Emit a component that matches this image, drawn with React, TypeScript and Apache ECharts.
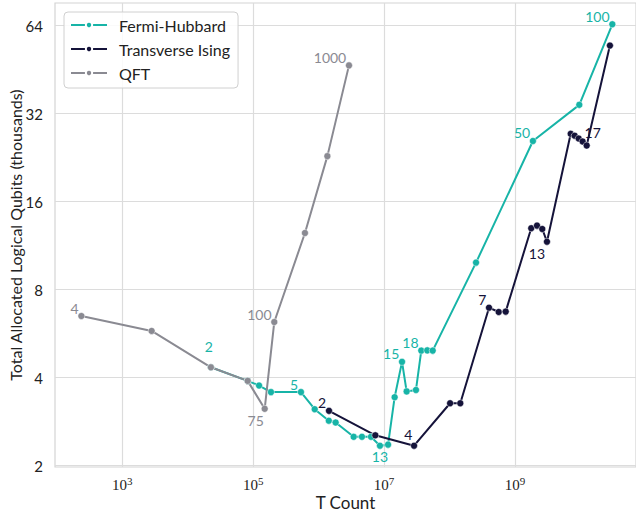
import React, { useEffect, useRef } from "react";
import * as echarts from "echarts";

const xTicks = [1e3, 1e5, 1e7, 1e9];
const yTicks = [2, 4, 8, 16, 32, 64];

const seriesNames = ["Fermi-Hubbard", "Transverse Ising", "QFT"];

const fhT = [22600, 82400, 123000, 187000, 537000, 871000, 1.43e6, 1.82e6, 3.43e6, 4.59e6, 6.31e6, 8.65e6, 1.15e7, 1.45e7, 1.88e7, 2.21e7, 3.07e7, 3.7e7, 4.57e7, 5.53e7, 2.54e8, 1.88e9, 9.6e9, 3.07e10];
const fhQ = [4.34, 3.9, 3.76, 3.57, 3.57, 3.12, 2.85, 2.81, 2.51, 2.51, 2.51, 2.34, 2.36, 3.43, 4.53, 3.59, 3.63, 4.95, 4.96, 4.95, 9.9, 25.8, 34.3, 64.7];
const fhLabels = ["2", "", "", "", "5", "", "", "", "", "", "", "13", "", "", "15", "", "", "18", "", "", "", "50", "", "100"];

const tiT = [1.44e6, 7.35e6, 2.87e7, 1.02e8, 1.46e8, 4.01e8, 5.64e8, 7.21e8, 1.77e9, 2.17e9, 2.61e9, 3.08e9, 7.1e9, 8.17e9, 9.4e9, 1.08e10, 1.245e10, 2.82e10];
const tiQ = [3.08, 2.54, 2.34, 3.27, 3.27, 6.94, 6.71, 6.73, 12.98, 13.25, 12.9, 11.67, 27.3, 26.9, 26.3, 25.7, 24.9, 54.7];
const tiLabels = ["2", "", "4", "", "", "7", "", "", "", "", "", "13", "", "", "", "", "17", ""];

const qftT = [237, 2810, 22600, 82400, 150000, 210000, 618000, 1.36e6, 2.91e6];
const qftQ = [6.5, 5.78, 4.34, 3.9, 3.13, 6.2, 12.5, 22.9, 46.8];
const qftLabels = ["4", "", "", "", "75", "100", "", "", "1000"];

const colors = ["#17b4a7", "#15133a", "#8a8a92"];
const SANS = "Lato, 'Open Sans', sans-serif";

function placement(series: string, text: string): any {
  if (series === "Fermi-Hubbard" && text === "2") return { position: "top", distance: 5, offset: [-2, -5] };
  if (series === "Fermi-Hubbard" && text === "13") return { position: "bottom", distance: 0, offset: [0, 0] };
  if (series === "QFT" && text === "75") return { position: "bottom", distance: 1, offset: [-9, 0] };
  if (series === "Transverse Ising" && text === "13") return { position: "bottom", distance: 1, offset: [-10, 0] };
  if (series === "Transverse Ising" && text === "17") return { position: "top", distance: 4, offset: [6, 2] };
  if (series === "Transverse Ising" && text === "4") return { position: "left", distance: 0, offset: [2, -11] };
  return { position: "left", distance: -1, offset: [0, -8] };
}

function buildData(name: string, xs: number[], ys: number[], labels: string[], color: string) {
  return xs.map((x, i) => {
    const item: any = { value: [x, ys[i]] };
    if (labels[i]) {
      item.label = {
        show: true,
        formatter: labels[i],
        color,
        fontSize: 14,
        fontFamily: SANS,
        ...placement(name, labels[i]),
      };
    }
    return item;
  });
}

export default function App() {
  const ref = useRef<HTMLDivElement>(null);
  useEffect(() => {
    if (!ref.current) return;
    const chart = echarts.init(ref.current, undefined, { renderer: "svg" });
    const mk = (name: string, xs: number[], ys: number[], labels: string[], color: string) => ({
      name,
      type: "line",
      data: buildData(name, xs, ys, labels, color),
      symbol: "circle",
      symbolSize: 7,
      showAllSymbol: true,
      lineStyle: { color, width: 2 },
      itemStyle: { color, borderColor: "#ffffff", borderWidth: 0.5 },
      label: { show: false },
      emphasis: { disabled: true },
    });
    chart.setOption({
      animation: false,
      backgroundColor: "#ffffff",
      grid: {
        left: 55,
        top: 3,
        right: 0,
        bottom: 48,
        containLabel: false,
        outerBoundsMode: "none",
        show: true,
        borderColor: "#d4d4d4",
        borderWidth: 1.2,
      },
      legend: {
        left: 64,
        top: 12,
        orient: "vertical",
        data: seriesNames,
        itemWidth: 36,
        itemHeight: 8,
        itemGap: 6,
        padding: [4, 8, 6, 6],
        borderColor: "#d0d0d0",
        borderWidth: 1,
        borderRadius: 4,
        backgroundColor: "rgba(255,255,255,0.85)",
        textStyle: { fontSize: 16, fontFamily: SANS, color: "#222", lineHeight: 18, padding: [0, 0, 0, 7] },
      },
      xAxis: {
        type: "log",
        logBase: 10,
        min: 93.8,
        max: 7.06e10,
        name: "T Count",
        nameLocation: "middle",
        nameGap: 27,
        nameMoveOverlap: false,
        nameTextStyle: { fontSize: 17, fontFamily: SANS, color: "#222" },
        axisLine: { show: false },
        axisTick: { show: false, customValues: xTicks },
        axisLabel: {
          customValues: xTicks,
          margin: 8,
          formatter: (v: number) => `{b|10}{s|${Math.round(Math.log10(v))}}`,
          rich: {
            b: { fontSize: 15, fontFamily: "'Liberation Serif', serif", color: "#222", verticalAlign: "bottom" },
            s: { fontSize: 11, fontFamily: "'Liberation Serif', serif", color: "#222", verticalAlign: "top", padding: [0, 0, 6, 0] },
          },
        },
        splitLine: { show: true, lineStyle: { color: "#dcdcdc", width: 1.2 } },
        minorSplitLine: { show: false },
      },
      yAxis: {
        type: "log",
        logBase: 2,
        min: 1.979,
        max: 76.5,
        name: "Total Allocated Logical Qubits (thousands)",
        nameLocation: "middle",
        nameGap: 32,
        nameMoveOverlap: false,
        nameTextStyle: { fontSize: 16, fontFamily: SANS, color: "#222" },
        axisLine: { show: false },
        axisTick: { show: false, customValues: yTicks },
        axisLabel: {
          customValues: yTicks,
          margin: 12,
          fontSize: 15,
          fontFamily: SANS,
          color: "#222",
          formatter: (v: number) => String(Math.round(v)),
        },
        splitLine: { show: true, lineStyle: { color: "#dcdcdc", width: 1.2 } },
      },
      series: [
        mk(seriesNames[0], fhT, fhQ, fhLabels, colors[0]),
        mk(seriesNames[1], tiT, tiQ, tiLabels, colors[1]),
        mk(seriesNames[2], qftT, qftQ, qftLabels, colors[2]),
      ],
    });
    return () => chart.dispose();
  }, []);
  return <div ref={ref} style={{ width: 636, height: 515, position: "absolute", left: 0, top: 0 }} />;
}
